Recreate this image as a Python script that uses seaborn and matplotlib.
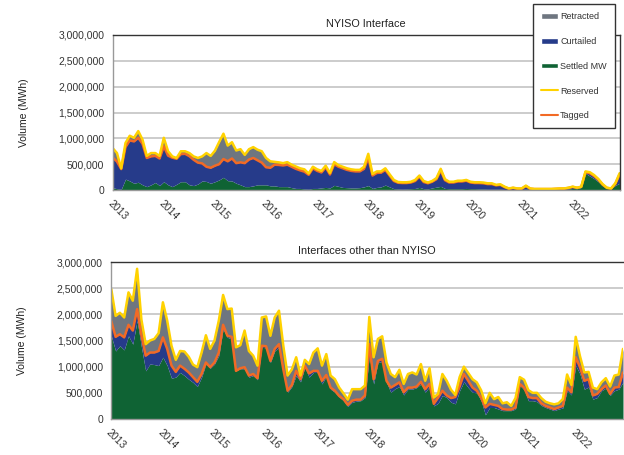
import numpy as np
import matplotlib
matplotlib.use("Agg")
import matplotlib.pyplot as plt
import seaborn as sns
from matplotlib.patches import Patch
from matplotlib.lines import Line2D
from matplotlib.ticker import FuncFormatter

# Dados mensais (milhares de MWh), jan/2013 a dez/2022
anos = [str(a) for a in range(2013, 2023)]

nyiso_reserved = [810, 715, 420, 910, 1050, 1010, 1140, 975, 660, 715, 715, 660,
                  1010, 750, 650, 620, 750, 750, 715, 650, 620, 650, 715, 660,
                  760, 930, 1090, 860, 925, 765, 790, 680, 790, 830, 780, 750,
                  620, 555, 545, 535, 520, 540, 490, 455, 420, 400, 320, 450,
                  400, 370, 470, 330, 540, 480, 450, 420, 400, 390, 390, 450,
                  700, 310, 360, 360, 420, 305, 195, 155, 150, 150, 160, 195,
                  280, 175, 145, 175, 230, 410, 210, 160, 160, 180, 180, 195,
                  160, 150, 150, 145, 130, 130, 100, 110, 65, 30, 45, 30,
                  30, 85, 30, 20, 20, 20, 20, 20, 25, 30, 30, 45,
                  65, 45, 65, 360, 345, 290, 215, 115, 45, 30, 130, 325]
nyiso_tagged = [630, 550, 405, 830, 960, 940, 1010, 895, 620, 650, 660, 610,
                845, 665, 625, 605, 695, 700, 655, 585, 530, 515, 450, 430,
                470, 500, 600, 555, 610, 520, 535, 520, 590, 620, 575, 530,
                440, 430, 490, 485, 475, 490, 450, 410, 380, 355, 295, 420,
                370, 340, 440, 300, 500, 450, 420, 390, 370, 360, 360, 410,
                620, 280, 330, 335, 390, 280, 175, 140, 135, 135, 145, 175,
                260, 155, 130, 160, 210, 380, 190, 145, 145, 165, 165, 180,
                145, 135, 135, 130, 115, 115, 90, 100, 55, 25, 40, 25,
                25, 75, 25, 18, 18, 18, 18, 18, 22, 27, 27, 40,
                60, 40, 60, 345, 325, 270, 200, 105, 40, 28, 120, 300]
nyiso_settled = [45, 25, 13, 210, 175, 130, 150, 100, 65, 100, 145, 85,
                 160, 100, 65, 110, 160, 160, 100, 85, 115, 175, 165, 130,
                 160, 195, 245, 180, 175, 130, 100, 65, 65, 80, 100, 100,
                 100, 80, 80, 65, 65, 65, 45, 30, 30, 20, 15, 30,
                 30, 40, 50, 40, 90, 70, 50, 45, 40, 40, 45, 60,
                 85, 30, 50, 60, 95, 60, 25, 20, 15, 20, 25, 30,
                 50, 25, 20, 40, 55, 70, 30, 25, 25, 25, 25, 30,
                 25, 25, 20, 20, 15, 15, 15, 15, 10, 10, 10, 10,
                 10, 20, 10, 10, 10, 10, 10, 10, 12, 15, 15, 20,
                 30, 25, 50, 320, 270, 220, 160, 80, 35, 25, 90, 130]

outras_reserved = [2480, 1970, 2030, 1940, 2420, 2260, 2870, 1900, 1430, 1500, 1530, 1640,
                   2230, 1880, 1400, 1130, 1300, 1290, 1190, 1040, 990, 1270, 1600, 1340,
                   1500, 1880, 2370, 2100, 2110, 1370, 1410, 1690, 1300, 1210, 1020, 1940,
                   1960, 1590, 1940, 2070, 1400, 830, 950, 1180, 830, 1130, 1050, 1270,
                   1350, 1020, 1240, 830, 760, 600, 490, 370, 570, 570, 570, 640,
                   1950, 1180, 1530, 1580, 1080, 860, 800, 940, 670, 860, 890, 850,
                   1050, 730, 970, 410, 480, 860, 730, 560, 460, 800, 1000, 880,
                   760, 700, 550, 300, 500, 380, 420, 300, 320, 250, 400, 800,
                   750, 550, 500, 500, 400, 330, 300, 280, 300, 380, 850, 650,
                   1570, 1200, 890, 900, 600, 570, 700, 780, 620, 830, 850, 1340]
outras_tagged = [1870, 1570, 1620, 1560, 1800, 1690, 2100, 1600, 1210, 1270, 1270, 1300,
                 1560, 1340, 1020, 900, 1020, 960, 890, 800, 710, 860, 1080, 990,
                 1080, 1270, 1800, 1590, 1570, 920, 970, 990, 830, 860, 780, 1400,
                 1390, 1110, 1340, 1430, 950, 540, 650, 920, 760, 1020, 870, 920,
                 920, 730, 840, 600, 540, 440, 380, 270, 350, 370, 370, 450,
                 1430, 760, 1110, 1150, 730, 600, 650, 700, 510, 600, 600, 620,
                 710, 570, 670, 290, 410, 540, 450, 400, 420, 620, 860, 730,
                 600, 540, 410, 220, 290, 270, 250, 190, 180, 180, 220, 670,
                 600, 420, 400, 400, 300, 250, 220, 190, 220, 250, 600, 510,
                 1180, 990, 730, 760, 450, 480, 570, 640, 480, 600, 610, 890]
outras_settled = [1590, 1300, 1400, 1320, 1590, 1430, 1880, 1380, 920, 1050, 1040, 1020,
                  1180, 1020, 780, 800, 890, 830, 760, 700, 620, 800, 1050, 970,
                  1050, 1210, 1720, 1560, 1530, 920, 960, 960, 800, 830, 750, 1370,
                  1360, 1080, 1300, 1370, 900, 510, 620, 830, 710, 990, 800, 890,
                  890, 670, 820, 570, 510, 420, 350, 240, 320, 340, 350, 410,
                  1210, 670, 1080, 1100, 700, 510, 580, 620, 460, 570, 570, 600,
                  670, 510, 620, 250, 300, 450, 410, 320, 290, 540, 710, 600,
                  510, 500, 350, 80, 220, 220, 190, 160, 160, 160, 190, 640,
                  560, 350, 350, 330, 260, 220, 190, 160, 190, 210, 540, 460,
                  1020, 860, 570, 610, 380, 410, 540, 590, 450, 540, 570, 700]

# Cores
cor_retracted = '#6E7680'
cor_curtailed = '#263B8A'
cor_settled = '#0F6334'
cor_reserved = '#FFD200'
cor_tagged = '#F26A25'

sns.set_theme(style="whitegrid")
plt.rcParams['font.family'] = ['Liberation Sans', 'DejaVu Sans']

meses = np.arange(120)


def painel(ax, settled, tagged, reserved, titulo):
    settled = np.array(settled) * 1000.0
    tagged = np.array(tagged) * 1000.0
    reserved = np.array(reserved) * 1000.0
    curtailed = tagged - settled
    retracted = reserved - tagged
    ax.stackplot(meses, settled, curtailed, retracted,
                 colors=[cor_settled, cor_curtailed, cor_retracted], linewidth=0)
    sns.lineplot(x=meses, y=tagged, ax=ax, color=cor_tagged, lw=1.8)
    sns.lineplot(x=meses, y=reserved, ax=ax, color=cor_reserved, lw=1.8)
    ax.set_xlim(0, 119)
    ax.set_ylim(0, 3000000)
    ax.set_yticks(np.arange(0, 3000001, 500000))
    ax.yaxis.set_major_formatter(FuncFormatter(lambda v, p: f'{v:,.0f}'))
    ax.set_xticks(np.arange(0, 120, 12))
    ax.set_xticklabels(anos, rotation=-45, ha='left', rotation_mode='anchor')
    ax.tick_params(axis='both', labelsize=7.5, colors='#333333', length=3,
                   width=0.8, direction='out', pad=3)
    ax.tick_params(axis='both', color='#999999')
    ax.grid(axis='y', color='#C4C4C4', lw=1.2)
    ax.grid(axis='x', visible=False)
    ax.set_axisbelow(True)
    ax.set_facecolor('white')
    ax.set_title(titulo, fontsize=7.8, color='#222222', pad=6)
    ax.set_ylabel('Volume (MWh)', fontsize=7.5, color='#222222', labelpad=6)
    ax.set_xlabel('')
    for lado in ['left', 'bottom']:
        ax.spines[lado].set_color('#999999')
        ax.spines[lado].set_linewidth(1.0)
    ax.spines['top'].set_color('#333333')
    ax.spines['top'].set_linewidth(1.0)


fig = plt.figure(figsize=(6.24, 4.55), dpi=100)
ax1 = fig.add_axes([112.7 / 624, 1 - 190 / 455, (619.6 - 112.7) / 624, 155 / 455])
ax2 = fig.add_axes([111.3 / 624, 1 - 419 / 455, (623 - 111.3) / 624, 157 / 455])

painel(ax1, nyiso_settled, nyiso_tagged, nyiso_reserved, 'NYISO Interface')
painel(ax2, outras_settled, outras_tagged, outras_reserved, 'Interfaces other than NYISO')

ax1.spines['right'].set_color('#333333')
ax1.spines['right'].set_linewidth(1.0)
ax2.spines['right'].set_visible(False)

for ax in [ax1, ax2]:
    ax.yaxis.set_label_coords(-0.165, 0.5)

# Legenda
itens = [Patch(facecolor=cor_retracted, label='Retracted'),
         Patch(facecolor=cor_curtailed, label='Curtailed'),
         Patch(facecolor=cor_settled, label='Settled MW'),
         Line2D([0], [0], color=cor_reserved, lw=1.5, label='Reserved'),
         Line2D([0], [0], color=cor_tagged, lw=1.5, label='Tagged')]
leg = fig.legend(handles=itens, loc='upper right', bbox_to_anchor=(615 / 624, 1 - 4 / 455),
                 fontsize=6.5, frameon=True, fancybox=False, framealpha=1,
                 labelspacing=1.75, handlelength=1.9, handleheight=0.6,
                 handletextpad=0.2, borderpad=0.9, borderaxespad=0)
leg.get_frame().set_edgecolor('#333333')
leg.get_frame().set_linewidth(1.0)
for t in leg.get_texts():
    t.set_color('#333333')

plt.savefig('out.png', dpi=100)
plt.close()
